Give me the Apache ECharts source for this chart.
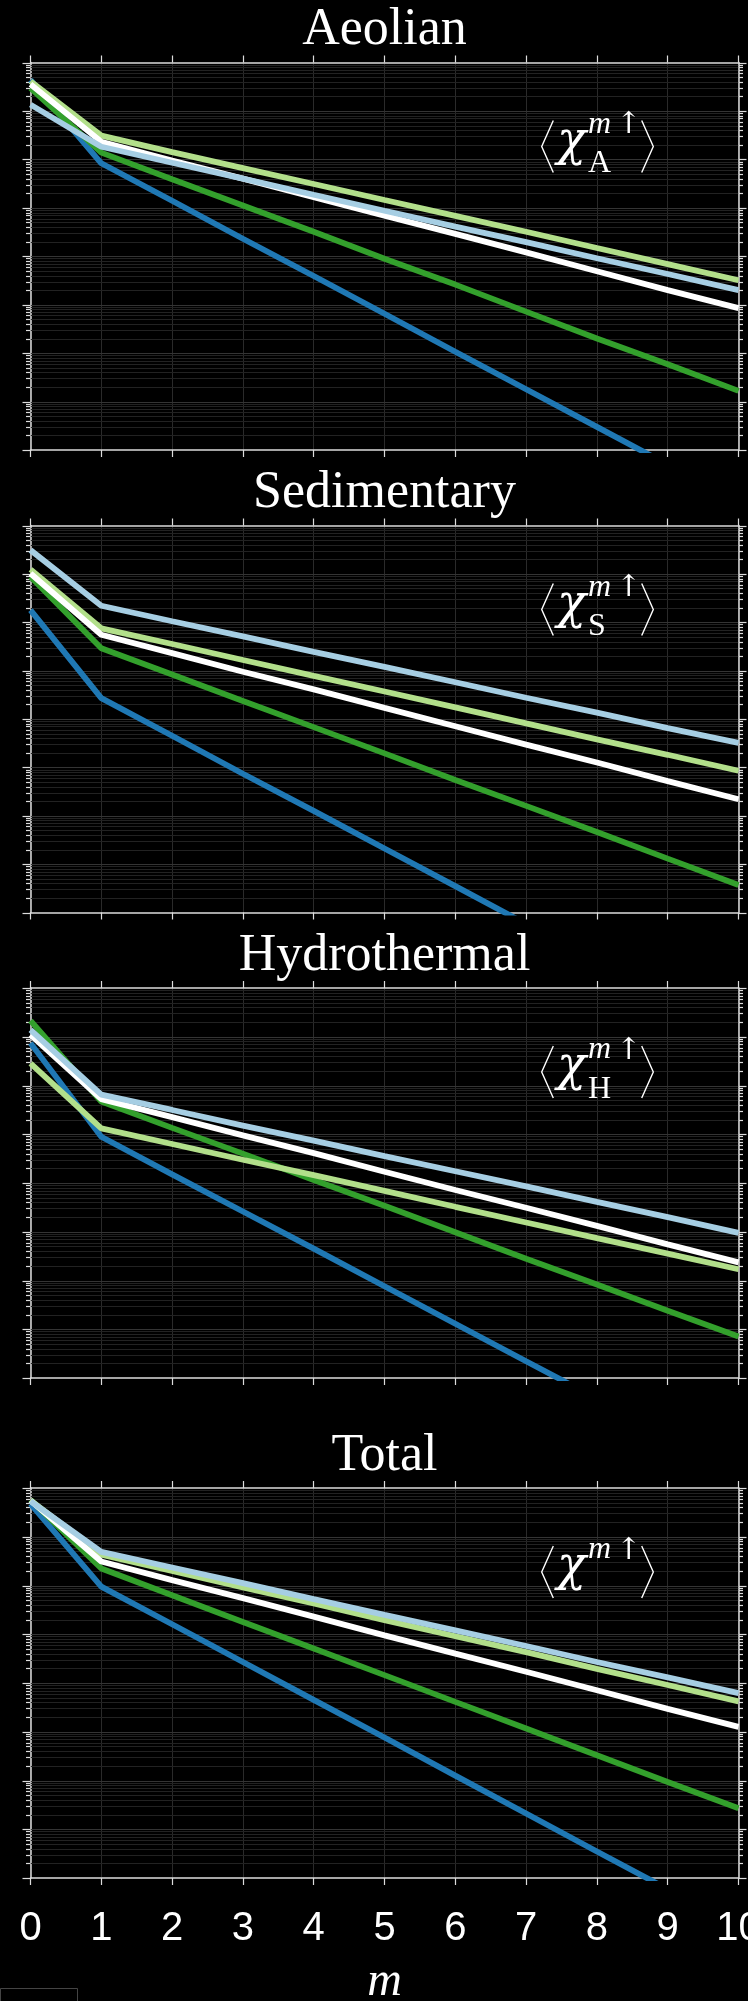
<!DOCTYPE html>
<html>
<head>
<meta charset="utf-8">
<script src="https://cdn.jsdelivr.net/npm/echarts@6/dist/echarts.min.js"></script>
<style>
  html, body { margin: 0; padding: 0; background: #000; }
  #chart { width: 748px; height: 2001px; }
</style>
</head>
<body>
<div id="chart"></div>
<script>
// m = 0..10 on the x axis
var mValues = [0, 1, 2, 3, 4, 5, 6, 7, 8, 9, 10];
var xTickLabels = ['0', '1', '2', '3', '4', '5', '6', '7', '8', '9', '10'];
var panelTitles = ['Aeolian', 'Sedimentary', 'Hydrothermal', 'Total'];
var panelSubscripts = ['A', 'S', 'H', ''];
var decadeTicks = [1e-8, 1e-7, 1e-6, 1e-5, 1e-4, 1e-3, 1e-2, 1e-1, 1];
var minorFactors = [2, 3, 4, 5, 6, 7, 8, 9];

// Aeolian
var aeolianDarkBlue = [0.44, 8.3e-3, 1.4e-3, 2.3e-4, 3.9e-5, 6.5e-6, 1.07e-6, 1.8e-7, 3.0e-8, 5.0e-9, 8.5e-10];
var aeolianDarkGreen = [0.295, 1.38e-2, 3.9e-3, 1.12e-3, 3.2e-4, 8.9e-5, 2.6e-5, 7.2e-6, 2.0e-6, 5.9e-7, 1.66e-7];
var aeolianLightGreen = [0.41, 3.1e-2, 1.41e-2, 6.6e-3, 3.1e-3, 1.45e-3, 6.8e-4, 3.2e-4, 1.48e-4, 6.9e-5, 3.2e-5];
var aeolianWhite = [0.355, 2.3e-2, 9.5e-3, 4.0e-3, 1.66e-3, 6.9e-4, 2.9e-4, 1.2e-4, 4.9e-5, 2.0e-5, 8.5e-6];
var aeolianLightBlue = [0.135, 1.82e-2, 8.5e-3, 4.0e-3, 1.86e-3, 8.7e-4, 4.1e-4, 1.95e-4, 9.1e-5, 4.3e-5, 2.0e-5];

// Sedimentary
var sedDarkBlue = [1.78e-2, 2.7e-4, 4.5e-5, 7.4e-6, 1.26e-6, 2.1e-7, 3.5e-8, 5.8e-9, 9.5e-10, 1.6e-10, 2.7e-11];
var sedDarkGreen = [8.7e-2, 2.9e-3, 8.3e-4, 2.35e-4, 6.8e-5, 1.95e-5, 5.5e-6, 1.6e-6, 4.6e-7, 1.3e-7, 3.7e-8];
var sedLightGreen = [0.124, 7.5e-3, 3.55e-3, 1.66e-3, 7.8e-4, 3.7e-4, 1.74e-4, 8.1e-5, 3.8e-5, 1.82e-5, 8.5e-6];
var sedWhite = [0.102, 5.5e-3, 2.3e-3, 9.5e-4, 4.1e-4, 1.7e-4, 7.1e-5, 2.95e-5, 1.26e-5, 5.2e-6, 2.2e-6];
var sedLightBlue = [0.31, 2.19e-2, 1.05e-2, 5.1e-3, 2.45e-3, 1.2e-3, 5.75e-4, 2.75e-4, 1.35e-4, 6.5e-5, 3.2e-5];

// Hydrothermal
var hydDarkBlue = [7.4e-2, 8.9e-4, 1.5e-4, 2.6e-5, 4.5e-6, 7.6e-7, 1.3e-7, 2.2e-8, 3.8e-9, 6.5e-10, 1.1e-10];
var hydDarkGreen = [0.214, 4.7e-3, 1.35e-3, 4.0e-4, 1.15e-4, 3.4e-5, 9.8e-6, 2.8e-6, 8.3e-7, 2.4e-7, 7.1e-8];
var hydLightGreen = [2.85e-2, 1.32e-3, 6.3e-4, 3.0e-4, 1.45e-4, 6.9e-5, 3.25e-5, 1.55e-5, 7.4e-6, 3.55e-6, 1.7e-6];
var hydWhite = [0.11, 5.25e-3, 2.24e-3, 9.5e-4, 4.1e-4, 1.7e-4, 7.2e-5, 3.1e-5, 1.32e-5, 5.5e-6, 2.35e-6];
var hydLightBlue = [0.138, 6.5e-3, 3.15e-3, 1.5e-3, 7.4e-4, 3.55e-4, 1.74e-4, 8.5e-5, 4.1e-5, 2.0e-5, 9.5e-6];

// Total
var totDarkBlue = [0.47, 9.5e-3, 1.6e-3, 2.7e-4, 4.5e-5, 7.6e-6, 1.26e-6, 2.1e-7, 3.5e-8, 5.9e-9, 9.8e-10];
var totDarkGreen = [0.575, 2.24e-2, 6.3e-3, 1.78e-3, 5.1e-4, 1.45e-4, 4.1e-5, 1.17e-5, 3.3e-6, 9.3e-7, 2.7e-7];
var totLightGreen = [0.56, 4.3e-2, 2.0e-2, 9.1e-3, 4.3e-3, 1.95e-3, 9.1e-4, 4.3e-4, 1.95e-4, 9.1e-5, 4.2e-5];
var totWhite = [0.55, 3.1e-2, 1.29e-2, 5.5e-3, 2.3e-3, 9.5e-4, 4.0e-4, 1.7e-4, 7.1e-5, 2.95e-5, 1.26e-5];
var totLightBlue = [0.54, 4.9e-2, 2.34e-2, 1.12e-2, 5.25e-3, 2.5e-3, 1.2e-3, 5.75e-4, 2.7e-4, 1.3e-4, 6.2e-5];

var panelData = [
  [aeolianDarkBlue, aeolianDarkGreen, aeolianLightGreen, aeolianWhite, aeolianLightBlue],
  [sedDarkBlue, sedDarkGreen, sedLightGreen, sedWhite, sedLightBlue],
  [hydDarkBlue, hydDarkGreen, hydLightGreen, hydWhite, hydLightBlue],
  [totDarkBlue, totDarkGreen, totLightGreen, totWhite, totLightBlue]
];
var lineColors = ['#1f78b4', '#33a02c', '#b2df8a', '#ffffff', '#a6cee3'];

var panelTops = [62.5, 525.5, 988, 1488];
var panelHeights = [387.5, 387, 390, 390];
var gridLeft = 30.5, gridWidth = 708;
var axisColor = '#dcdcdc';

// log ticks: decades plus 2..9 in between
var logTicks = [];
decadeTicks.forEach(function (d, k) {
  logTicks.push([0, d, 1]);
  if (k < decadeTicks.length - 1) {
    minorFactors.forEach(function (f) { logTicks.push([0, d * f, 0]); });
  }
});

function renderLogGrid(params, api) {
  var cs = params.coordSys;
  var y = Math.round(api.coord([0, api.value(1)])[1]) + 0.5;
  var major = api.value(2) === 1;
  var len = major ? 8 : 4.5;
  var x0 = cs.x, x1 = cs.x + cs.width;
  var kids = [
    { type: 'line', shape: { x1: x0 - len, y1: y, x2: x0, y2: y }, style: { stroke: axisColor, lineWidth: 1.2 } },
    { type: 'line', shape: { x1: x1, y1: y, x2: x1 + len, y2: y }, style: { stroke: axisColor, lineWidth: 1.2 } }
  ];
  if (y > cs.y + 1.5 && y < cs.y + cs.height - 1.5) {
    kids.unshift({ type: 'line', shape: { x1: x0, y1: y, x2: x1, y2: y }, style: { stroke: major ? '#343434' : '#222222', lineWidth: 1 } });
  }
  return { type: 'group', children: kids };
}

var grids = [], xAxes = [], yAxes = [], series = [], graphics = [];

panelTitles.forEach(function (title, i) {
  var top = panelTops[i];
  grids.push({ left: gridLeft, top: top, width: gridWidth, height: panelHeights[i], containLabel: false, outerBoundsMode: 'none' });

  xAxes.push({
    type: 'value', gridIndex: i, min: 0, max: 10, interval: 1, position: 'bottom',
    axisLine: { onZero: false, lineStyle: { color: axisColor, width: 1.5 } },
    axisTick: { length: 7, lineStyle: { color: axisColor, width: 1.2 } },
    axisLabel: {
      show: i === 3, margin: 31, color: '#ffffff', fontSize: 40, fontFamily: 'Liberation Sans',
      showMinLabel: true, showMaxLabel: true, hideOverlap: false,
      formatter: function (v) { return xTickLabels[Math.round(v)]; }
    },
    splitLine: { show: true, lineStyle: { color: '#2a2a2a', width: 1 } }
  });
  xAxes.push({
    type: 'value', gridIndex: i, min: 0, max: 10, interval: 1, position: 'top',
    axisLine: { onZero: false, lineStyle: { color: axisColor, width: 1.5 } },
    axisTick: { length: 7, lineStyle: { color: axisColor, width: 1.2 } },
    axisLabel: { show: false }, splitLine: { show: false }
  });
  ['left', 'right'].forEach(function (pos) {
    yAxes.push({
      type: 'log', logBase: 10, gridIndex: i, min: 1e-8, max: 1, position: pos,
      axisLine: { show: true, onZero: false, lineStyle: { color: axisColor, width: 1.5 } },
      axisTick: { show: false }, axisLabel: { show: false }, splitLine: { show: false }
    });
  });

  series.push({
    type: 'custom', xAxisIndex: 2 * i, yAxisIndex: 2 * i, z: 1, silent: true,
    renderItem: renderLogGrid, data: logTicks, encode: { x: 0, y: 1 }
  });
  panelData[i].forEach(function (vals, s) {
    series.push({
      type: 'line', xAxisIndex: 2 * i, yAxisIndex: 2 * i, z: 3,
      showSymbol: false, silent: true,
      lineStyle: { color: lineColors[s], width: 5.8 },
      data: mValues.map(function (m, j) { return [m, vals[j]]; })
    });
  });

  // panel title
  graphics.push({
    type: 'text', x: 384.5, y: top - 32, z: 10,
    style: { text: title, fill: '#ffffff', font: '52px "Liberation Serif"', textAlign: 'center', textVerticalAlign: 'middle' }
  });

  // <chi_X^{m up}> annotation
  graphics.push({
    type: 'polyline', z: 10,
    shape: { points: [[553.3, top + 58], [541.7, top + 84], [553.3, top + 110]] },
    style: { stroke: '#ffffff', lineWidth: 1.4, fill: null }
  });
  graphics.push({
    type: 'polyline', z: 10,
    shape: { points: [[641.7, top + 58], [653.3, top + 84], [641.7, top + 110]] },
    style: { stroke: '#ffffff', lineWidth: 1.4, fill: null }
  });
  graphics.push({
    type: 'text', x: 571.5, y: top + 80, z: 10,
    style: { text: 'χ', fill: '#ffffff', font: 'italic 48px "DejaVu Serif"', textAlign: 'center', textVerticalAlign: 'middle' }
  });
  graphics.push({
    type: 'text', x: 588, y: top + 62, z: 10,
    style: { text: 'm', fill: '#ffffff', font: 'italic 32px "Liberation Serif"', textAlign: 'left', textVerticalAlign: 'middle' }
  });
  graphics.push({
    type: 'text', x: 616, y: top + 63, z: 10,
    style: { text: '↑', fill: '#ffffff', font: '30px "DejaVu Serif"', textAlign: 'left', textVerticalAlign: 'middle' }
  });
  if (panelSubscripts[i]) {
    graphics.push({
      type: 'text', x: 588, y: top + 101.5, z: 10,
      style: { text: panelSubscripts[i], fill: '#ffffff', font: '32px "Liberation Serif"', textAlign: 'left', textVerticalAlign: 'middle' }
    });
  }
});

// x axis name
graphics.push({
  type: 'text', x: 384.5, y: 1982, z: 10,
  style: { text: 'm', fill: '#ffffff', font: 'italic 48px "Liberation Serif"', textAlign: 'center', textVerticalAlign: 'middle' }
});
// leftover frame at bottom-left
graphics.push({
  type: 'rect', z: 10,
  shape: { x: 0.5, y: 1988.5, width: 77, height: 20 },
  style: { stroke: '#444444', lineWidth: 1, fill: null }
});

var chartDom = document.getElementById('chart');
var myChart = echarts.init(chartDom);
var option = {
  backgroundColor: '#000000',
  animation: false,
  grid: grids,
  xAxis: xAxes,
  yAxis: yAxes,
  series: series,
  graphic: graphics
};
option && myChart.setOption(option);
</script>
</body>
</html>
